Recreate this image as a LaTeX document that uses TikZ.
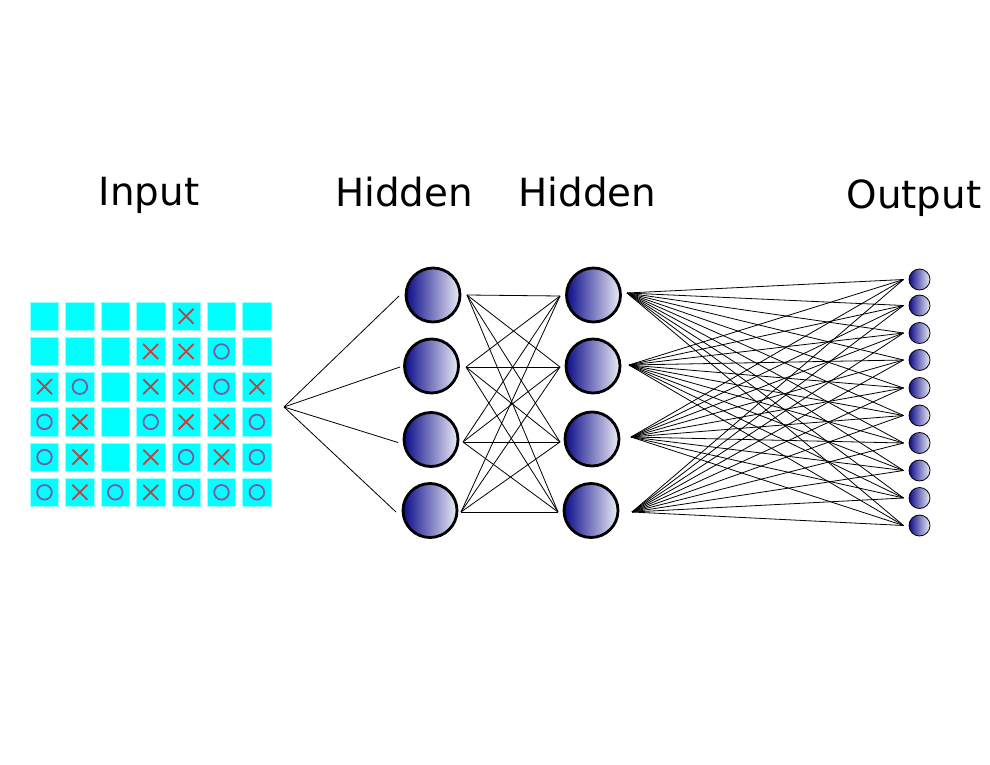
\documentclass[tikz,border=0pt]{standalone}
\usepackage{fontspec}
\setmainfont{DejaVu Sans}
\definecolor{xred}{RGB}{200,62,62}
\definecolor{opurple}{RGB}{118,92,160}
\definecolor{navy}{RGB}{12,12,138}
\definecolor{pale}{RGB}{236,236,246}
\definecolor{cellfill}{RGB}{0,255,255}
\definecolor{celledge}{RGB}{150,255,255}
\begin{document}
\begin{tikzpicture}[x=1pt,y=-1pt,
  lbl/.style={anchor=base,inner sep=0pt,font=\fontsize{38.8}{46}\selectfont},
  cell/.style={draw=celledge,line width=0.6pt,fill=cellfill,minimum width=28.5pt,minimum height=28.5pt,inner sep=0pt,outer sep=0pt},
  hnode/.style={circle,draw=black,line width=2.8pt,left color=navy,right color=pale,minimum size=54pt,inner sep=0pt},
  onode/.style={circle,draw=black,line width=0.8pt,left color=navy,right color=pale,minimum size=21pt,inner sep=0pt},
  conn/.style={line width=0.8pt,black},
  xmark/.style={xred,line width=1.8pt},
  omark/.style={opurple,line width=1.8pt}]
\useasboundingbox (0,0) rectangle (990,765);
% labels
\node[lbl] (tin) at (149,205) {Input};
\node[lbl] (th1) at (404,206.5) {Hidden};
\node[lbl] (th2) at (587.5,206.5) {Hidden};
\node[lbl] (tout) at (914,208) {Output};
% grid
\foreach \i in {0,...,6}{
  \foreach \j in {0,...,5}{
    \node[cell] (sq-\i-\j) at ({44.5+35.4*\i},{316.3+35.2*\j}) {};
  }
}
\foreach \i/\j in {4/0,3/1,4/1,0/2,3/2,4/2,6/2,1/3,4/3,5/3,1/4,3/4,5/4,1/5,3/5}{
  \draw[xmark] ([shift={(-7.5,-7.5)}]sq-\i-\j.center) -- ([shift={(7.5,7.5)}]sq-\i-\j.center);
  \draw[xmark] ([shift={(-7.5,7.5)}]sq-\i-\j.center) -- ([shift={(7.5,-7.5)}]sq-\i-\j.center);
}
\foreach \i/\j in {5/1,1/2,5/2,0/3,3/3,6/3,0/4,4/4,6/4,0/5,2/5,4/5,5/5,6/5}{
  \draw[omark] (sq-\i-\j.center) circle[radius=7.3];
}
% hub
\coordinate (hub) at (284,407);
% hidden layer 1
\node[hnode] (a1) at (433,295) {};
\node[hnode] (a2) at (431.5,366) {};
\node[hnode] (a3) at (431,439.5) {};
\node[hnode] (a4) at (430,510.5) {};
\coordinate (a1l) at (399,296);
\coordinate (a2l) at (400,367);
\coordinate (a3l) at (398,442.5);
\coordinate (a4l) at (396,512);
\coordinate (a1r) at (467,295);
\coordinate (a2r) at (466,367);
\coordinate (a3r) at (463,442);
\coordinate (a4r) at (461,512);
% hidden layer 2
\node[hnode] (b1) at (593.5,295) {};
\node[hnode] (b2) at (593,366) {};
\node[hnode] (b3) at (592,439) {};
\node[hnode] (b4) at (591,510.5) {};
\coordinate (b1l) at (560,296);
\coordinate (b2l) at (560,367);
\coordinate (b3l) at (560,442);
\coordinate (b4l) at (558,512);
\coordinate (b1r) at (627,293);
\coordinate (b2r) at (629,365);
\coordinate (b3r) at (631,437);
\coordinate (b4r) at (632,512);
% output layer
\foreach \k/\y in {1/279.5,2/305.5,3/333,4/360,5/388,6/415.5,7/443,8/470.5,9/498,10/525.5}{
  \node[onode] (o\k) at (919.5,\y) {};
  \coordinate (o\k l) at (903.5,\y);
}
% connectors
\foreach \a in {1,...,4}{
  \draw[conn] (hub) -- (a\a l);
  \foreach \b in {1,...,4}{
    \draw[conn] (a\a r) -- (b\b l);
  }
  \foreach \k in {1,...,10}{
    \draw[conn] (b\a r) -- (o\k l);
  }
}
\end{tikzpicture}
\end{document}
